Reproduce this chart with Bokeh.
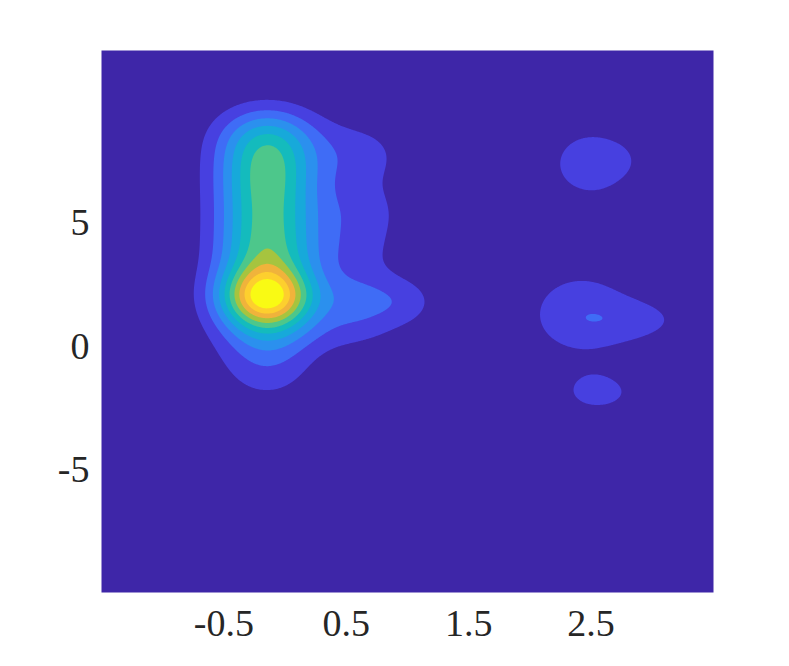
import numpy as np
from bokeh.plotting import figure
from bokeh.models import Range1d, FixedTicker
from bokeh.embed import file_html
from bokeh.resources import INLINE

# axis ticks
x_ticks = [-0.5, 0.5, 1.5, 2.5]
x_tick_labels = ["-0.5", "0.5", "1.5", "2.5"]
y_ticks = [-5, 0, 5]
y_tick_labels = ["-5", "0", "5"]

# density kernels: centre, spread, weight
comp_x = [-0.15, -0.15, -0.15, -0.15, -0.15, -0.15, -0.15, -0.15, -0.15, -0.15,
          -0.15, -0.15, -0.15, -0.15, -0.15, -0.15,
          -0.15,
          0.60, 1.00,
          0.58, 0.58, 0.55, 0.50,
          2.50, 2.70,
          2.42, 2.47, 2.90,
          2.54, 2.68]
comp_y = [9.30, 8.55, 7.80, 7.05, 6.30, 5.55, 4.80, 4.05, 3.30, 2.55,
          1.80, 1.05, 0.30, -0.45, -1.20, -1.95,
          2.02,
          1.85, 1.80,
          7.80, 5.40, 3.80, 0.50,
          7.40, 7.55,
          1.30, 1.15, 1.05,
          -1.88, -1.90]
comp_sx = [0.28] * 16 + [0.26, 0.25, 0.20, 0.30, 0.30, 0.28, 0.30,
                         0.26, 0.12, 0.36, 0.12, 0.28, 0.20, 0.09]
comp_sy = [0.75] * 16 + [0.80, 0.90, 0.75, 1.00, 1.00, 0.80, 0.70,
                         1.10, 0.45, 1.45, 0.35, 0.60, 0.62, 0.30]
comp_w = [0.085, 0.26, 0.26, 0.28, 0.265, 0.255, 0.26, 0.27, 0.27, 0.25,
          0.22, 0.23, 0.13, 0.09, 0.06, 0.035,
          0.54,
          0.20, 0.10,
          0.13, 0.13, 0.08, 0.06,
          0.16, 0.05,
          0.153, 0.022, 0.095,
          0.13, 0.02]

levels = [0.1, 0.2, 0.3, 0.4, 0.5, 0.6, 0.7, 0.8, 0.9, 1.0]
bg_color = "#3E26A8"
band_colors = ["#4740E0", "#3F6CF6", "#2B90EE", "#17A9DA", "#14BBBD",
               "#4DC78B", "#A6C43F", "#F0B33B", "#FDCF2E", "#F9FA14"]

x_lo, x_hi = -1.5, 3.5
y_lo, y_hi = -10.0, 12.0

xs = np.linspace(x_lo, x_hi, 501)
ys = np.linspace(y_lo, y_hi, 881)
X, Y = np.meshgrid(xs, ys)
Z = np.zeros_like(X)
for cx, cy, sx, sy, w in zip(comp_x, comp_y, comp_sx, comp_sy, comp_w):
    Z += w * np.exp(-((X - cx) ** 2 / (2 * sx ** 2) + (Y - cy) ** 2 / (2 * sy ** 2)))

p = figure(frame_width=612, frame_height=542, output_backend="svg",
           toolbar_location=None, x_range=Range1d(x_lo, x_hi),
           y_range=Range1d(y_lo, y_hi), min_border_left=101, min_border_top=50,
           min_border_right=40, min_border_bottom=60)
p.background_fill_color = bg_color
p.border_fill_color = "white"
p.outline_line_color = None
p.grid.visible = False

top = float(Z.max()) + 1.0
for lev, col in zip(levels, band_colors):
    p.contour(xs, ys, Z, levels=[lev, top], fill_color=[col])

for ax in (p.xaxis[0], p.yaxis[0]):
    ax.axis_line_color = None
    ax.major_tick_line_color = None
    ax.minor_tick_line_color = None
    ax.major_label_text_font = "Liberation Serif"
    ax.major_label_text_font_size = "38px"
    ax.major_label_text_color = "#262626"

p.xaxis.ticker = FixedTicker(ticks=x_ticks)
p.xaxis.major_label_overrides = dict(zip(x_ticks, x_tick_labels))
p.yaxis.ticker = FixedTicker(ticks=y_ticks)
p.yaxis.major_label_overrides = dict(zip(y_ticks, y_tick_labels))
p.xaxis.major_label_standoff = 12
p.yaxis.major_label_standoff = 6

open("out.html", "w").write(file_html(p, INLINE))
